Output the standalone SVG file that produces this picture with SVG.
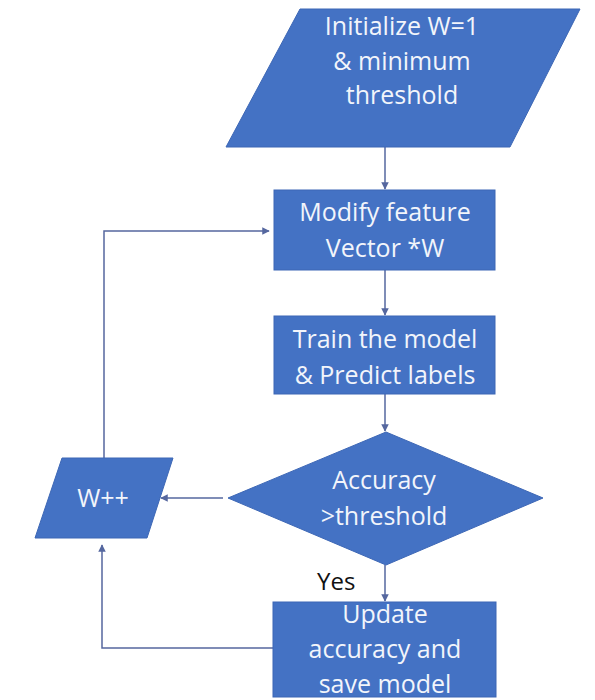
<svg xmlns="http://www.w3.org/2000/svg" width="595" height="700" viewBox="0 0 595 700">
  <style>
    .shape { fill: #4472c4; stroke: #3d67b5; stroke-width: 1; }
    .label { font-family: "Open Sans", "DejaVu Sans", sans-serif; font-size: 25px; fill: #f2f5fb; text-anchor: middle; }
    .note { font-family: "Open Sans", "DejaVu Sans", sans-serif; font-size: 24px; fill: #111111; }
    .link { fill: none; stroke: #55679f; stroke-width: 1.5; marker-end: url(#arrow); }
  </style>
  <defs>
    <marker id="arrow" viewBox="0 0 10 10" refX="9" refY="5" markerWidth="5" markerHeight="5" orient="auto" markerUnits="strokeWidth">
      <path d="M0,0 L10,5 L0,10 z" fill="#55679f"/>
    </marker>
  </defs>
  <rect width="595" height="700" fill="#ffffff"/>

  <!-- connectors -->
  <g id="connectors">
    <path class="link" d="M385,147 L385,189"/>
    <path class="link" d="M385,270 L385,315"/>
    <path class="link" d="M385,394 L385,431"/>
    <path class="link" d="M385,565 L385,601"/>
    <path class="link" d="M223,498 L161,498"/>
    <path class="link" d="M273,648 L102,648 L102,545"/>
    <path class="link" d="M104,458 L104,231 L269,231"/>
  </g>

  <!-- start: initialisation -->
  <g id="init">
    <polygon class="shape" points="300,9 580,9 510,147 226,147"/>
    <text class="label" x="402" y="35">Initialize W=1</text>
    <text class="label" x="402" y="70">&amp; minimum</text>
    <text class="label" x="402" y="104">threshold</text>
  </g>

  <g id="modify">
    <rect class="shape" x="274" y="190" width="221" height="80"/>
    <text class="label" x="385" y="221">Modify feature</text>
    <text class="label" x="385" y="257">Vector *W</text>
  </g>

  <g id="train">
    <rect class="shape" x="274" y="316" width="221" height="78"/>
    <text class="label" x="385" y="348">Train the model</text>
    <text class="label" x="385" y="384">&amp; Predict labels</text>
  </g>

  <g id="check">
    <polygon class="shape" points="386,432 543,498 386,565 228,498"/>
    <text class="label" x="384" y="489">Accuracy</text>
    <text class="label" x="384" y="525">&gt;threshold</text>
  </g>

  <g id="increment">
    <polygon class="shape" points="62,458 173,458 147,538 35,538"/>
    <text class="label" x="103" y="507">W++</text>
  </g>

  <g id="update">
    <rect class="shape" x="273" y="602" width="223" height="95"/>
    <text class="label" x="385" y="623">Update</text>
    <text class="label" x="385" y="658">accuracy and</text>
    <text class="label" x="385" y="693">save model</text>
  </g>

  <text class="note" x="317" y="590">Yes</text>
</svg>
